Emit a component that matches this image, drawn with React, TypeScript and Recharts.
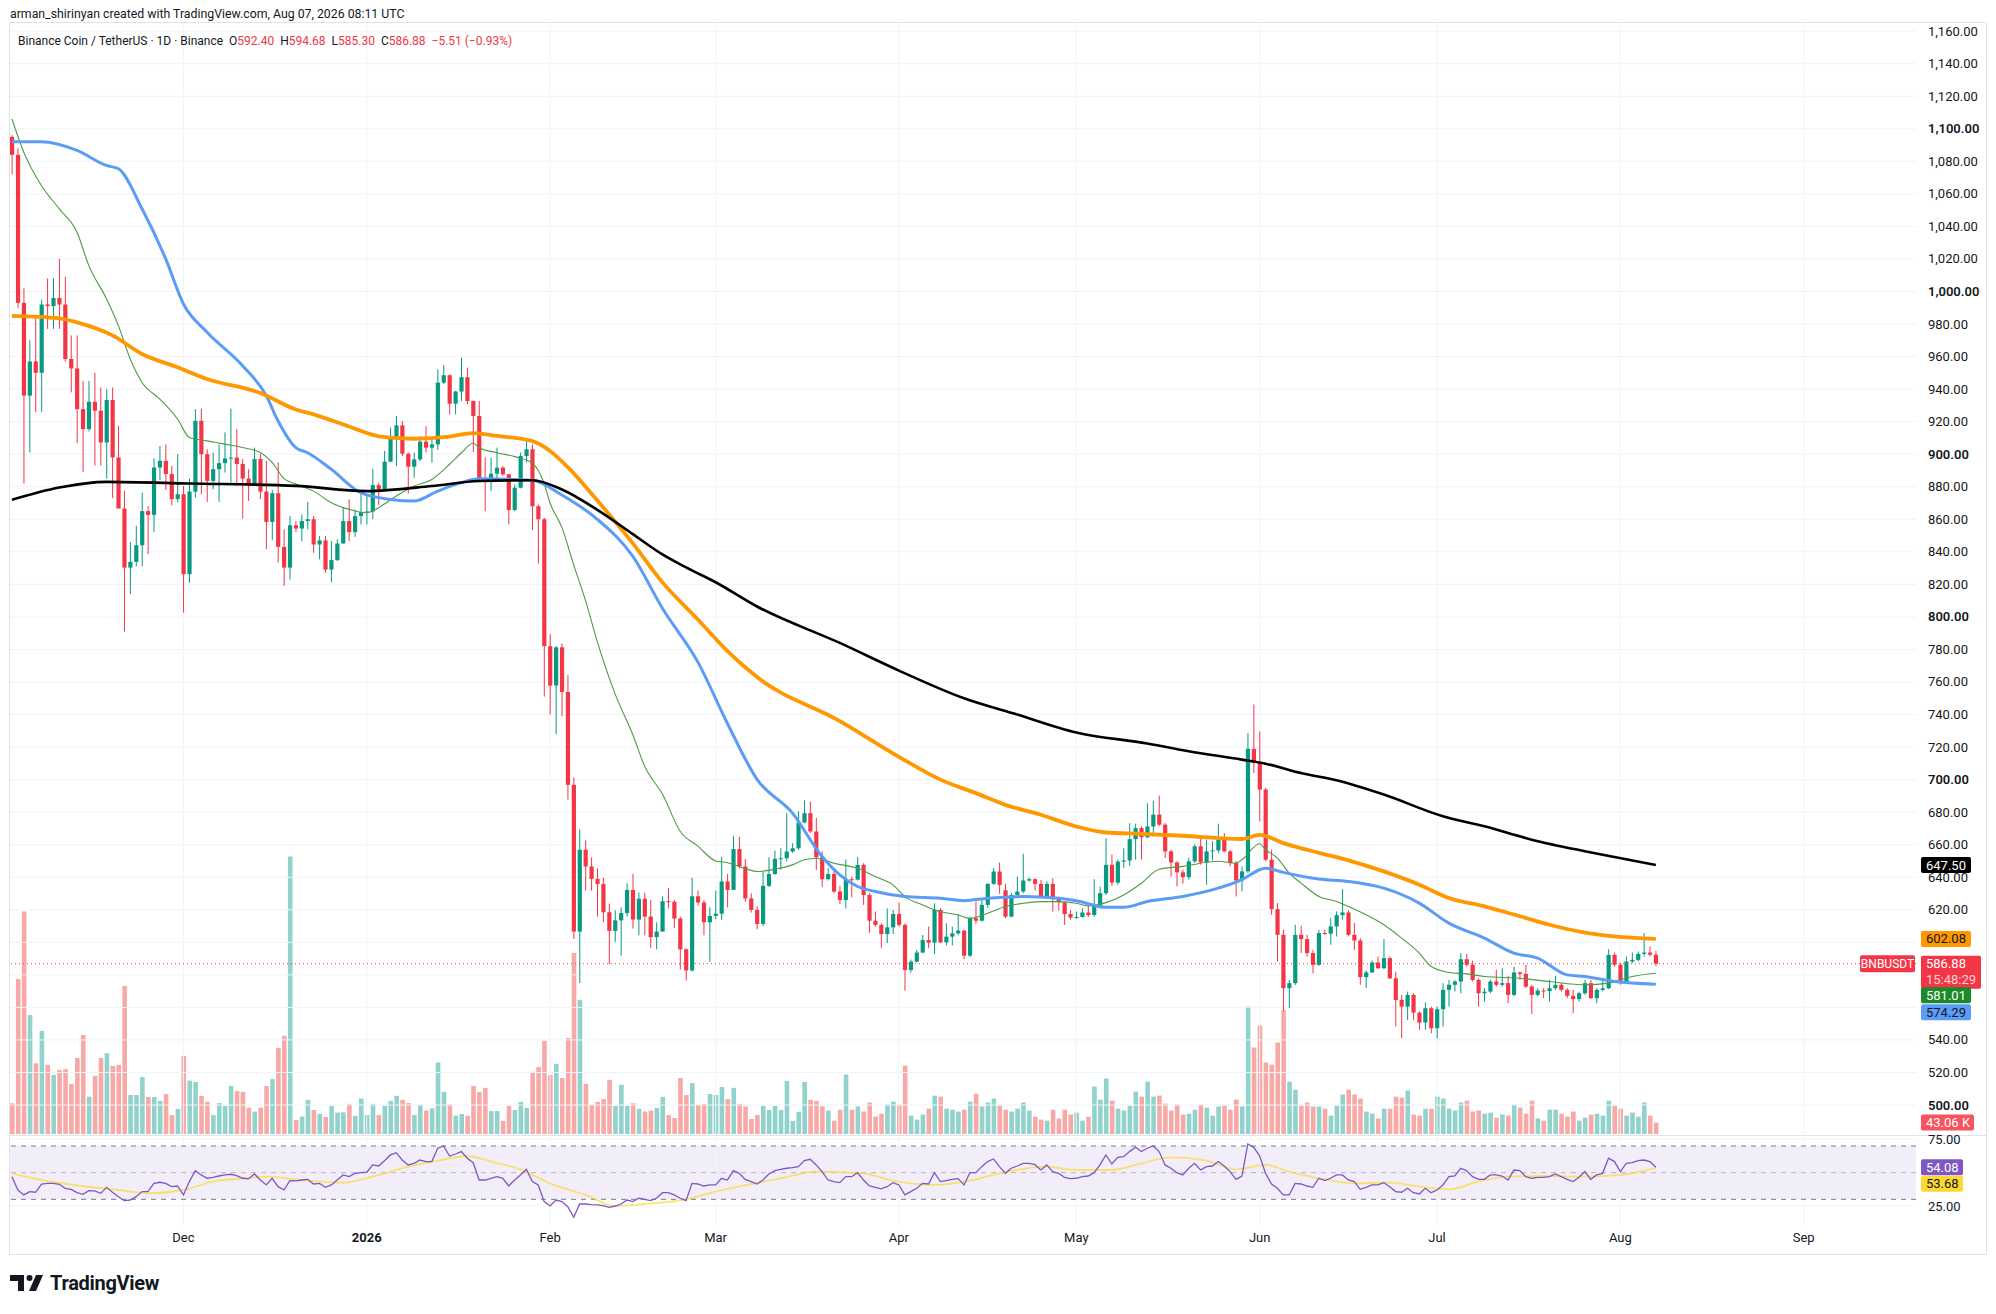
import React from "react";
import { ComposedChart, Bar, Line, XAxis, YAxis, ReferenceLine, ReferenceArea } from "recharts";

// BNB/USDT 1D (Binance), 2 Nov 2025 -> 7 Aug 2026, values.
// index = days since 2 Nov 2025
const ohlc: number[][] = [
  [1095, 1096, 1072, 1084], [1084, 1088, 990, 993], [993, 1002, 882, 936], [936, 970, 901, 957],
  [957, 984, 926, 950], [950, 995, 926, 992], [992, 1008, 977, 991], [991, 1008, 977, 996],
  [996, 1020, 977, 992], [992, 1009, 957, 958.5], [958.5, 973, 938, 952.7], [952.7, 973, 907, 927.7],
  [927.7, 945, 889, 915.4], [915.4, 945, 914, 932.2], [932.2, 950, 893, 926.7], [926.7, 941, 893, 907.2],
  [907.2, 940, 885, 933.3], [933.3, 941, 873, 898], [898, 917.5, 867, 866.6], [866.6, 877.5, 791, 830.3],
  [830.3, 846, 814, 833.8], [833.8, 856, 831, 844], [844, 876.4, 831, 865], [865, 868.2, 838.5, 862.7],
  [862.7, 897.4, 852.2, 891.8], [891.8, 905, 884, 895.9], [895.9, 906, 878, 887.8], [887.8, 892.8, 868.6, 872.4],
  [872.4, 900, 870.3, 875.4], [875.4, 880.5, 802.6, 826.2], [826.2, 885, 821, 877], [877, 927.7, 873.4, 920.5],
  [920.5, 928, 875.4, 900], [900, 903, 870.7, 883.6], [883.6, 901, 878.5, 890.8], [890.8, 906, 870.7, 894.5],
  [894.5, 913.4, 888.7, 897.4], [897.4, 928, 882.6, 897.9], [897.9, 915.4, 880.5, 894], [894, 897, 860.4, 885],
  [885, 890.8, 871.3, 881], [881, 904, 880.5, 897], [897, 900, 872.4, 877], [877, 895.9, 841.6, 858.4],
  [858.4, 878, 847.3, 876], [876, 894.9, 833.4, 843], [843, 853.9, 819, 830.3], [830.3, 862.1, 823, 856.3],
  [856.3, 859, 852, 854.3], [854.3, 863, 846.6, 858.9], [858.9, 870.8, 853.8, 860], [860, 862, 839.4, 844.5],
  [844.5, 849.7, 835.3, 847], [847, 849.7, 827, 829.1], [829.1, 846.6, 821.3, 834.9], [834.9, 847.6, 834.3, 845.1],
  [845.1, 867, 845.1, 858.9], [858.9, 872.2, 846.6, 852.1], [852.1, 866, 849.2, 862], [862, 875.9, 856.8, 864.4],
  [864.4, 875.3, 856.8, 864.8], [864.8, 891.1, 860, 881], [881, 882.5, 868.7, 878.4], [878.4, 902, 878.4, 895.4],
  [895.4, 916.3, 895, 910.6], [910.6, 923.5, 892.7, 917.7], [917.7, 920.4, 898.9, 900.3], [900.3, 901, 875.9, 892.3],
  [892.3, 901, 885.5, 896.8], [896.8, 911.2, 895.8, 907.7], [907.7, 917.3, 901, 904], [904, 910.2, 894.8, 906],
  [906, 952.2, 902.6, 944], [944, 954.7, 943, 948.5], [948.5, 949.1, 924.5, 931], [931, 938.9, 924.5, 938.5],
  [938.5, 959.4, 932.7, 947.3], [947.3, 953.2, 930.7, 932.7], [932.7, 933, 901.3, 923.5], [923.5, 932.7, 884.1, 884.5],
  [884.5, 897.9, 865, 883.5], [883.5, 897.9, 877.3, 888], [888, 904, 883.5, 891.7], [891.7, 892.7, 886.6, 887.6],
  [887.6, 888, 856.8, 865.7], [865.7, 881.4, 865, 879.4], [879.4, 901, 879, 898.9], [898.9, 909.1, 894.8, 903],
  [903, 906, 853.3, 868], [868, 869.1, 832.8, 860], [860, 861, 751, 782], [782, 789.3, 740, 757.8],
  [757.8, 782, 728, 781.3], [781.3, 783.6, 739, 753.9], [753.9, 764.2, 687.7, 696.8], [696.8, 701.4, 602, 606.6],
  [606.6, 669.4, 575, 656.9], [656.9, 662.6, 631.8, 646.6], [646.6, 652.3, 631.8, 639], [639, 645.4, 615.8, 635.9],
  [635.9, 639.7, 612.3, 618.5], [618.5, 623.8, 586.6, 607], [607, 619.7, 600.2, 613.5], [613.5, 621.5, 591.8, 618],
  [618, 636.3, 615.8, 632.2], [632.2, 642, 608.5, 614], [614, 630.6, 604.3, 626.8], [626.8, 630.6, 604.3, 615.8],
  [615.8, 626, 596.4, 603.2], [603.2, 612.3, 595.7, 606.6], [606.6, 628.3, 606.6, 625.3], [625.3, 633.4, 620.8, 624.9],
  [624.9, 626, 608.9, 614.6], [614.6, 615.8, 583.3, 595.7], [595.7, 596.4, 576.5, 582.7], [582.7, 639.7, 582, 628.3],
  [628.3, 631.8, 622.6, 624.5], [624.5, 626, 604.3, 612.3], [612.3, 621.5, 588, 616.2], [616.2, 631.8, 614.2, 617.6],
  [617.6, 652.3, 613.8, 637.4], [637.4, 642, 621.5, 632.2], [632.2, 665.5, 632.2, 657.3], [657.3, 664.8, 645.4, 646.6],
  [646.6, 651.2, 624.9, 627], [627, 630.2, 618.3, 619.9], [619.9, 622, 608.1, 611.3], [611.3, 643.5, 610, 634.7],
  [634.7, 652.3, 634, 642], [642, 656.4, 641.4, 651.3], [651.3, 657.8, 644.5, 651.7], [651.7, 679.4, 649.6, 655.8],
  [655.8, 660.9, 655, 657.8], [657.8, 680.6, 656.8, 673.6], [673.6, 687.2, 673.2, 679.4], [679.4, 686.5, 667.2, 668.1],
  [668.1, 676.4, 644.5, 652.3], [652.3, 655.8, 633.9, 638.8], [638.8, 645.6, 638, 642], [642, 644.5, 630.2, 631.2],
  [631.2, 634.7, 623.6, 626], [626, 650.9, 620.9, 638.8], [638.8, 640.4, 627.7, 638.5], [638.5, 652.3, 637.9, 647.6],
  [647.6, 648.6, 623, 629.1], [629.1, 630.2, 605.9, 613.3], [613.3, 618.9, 609.6, 610.7], [610.7, 611.7, 596.4, 605.1],
  [605.1, 620.9, 599.6, 609.2], [609.2, 619.9, 605.1, 617.4], [617.4, 624.4, 609.6, 610.7], [610.7, 611.7, 570.3, 583],
  [583, 589.4, 581.4, 588.1], [588.1, 595.4, 587.5, 593.7], [593.7, 604.5, 593.3, 601.4], [601.4, 609.6, 596.4, 599.8],
  [599.8, 624, 592.8, 619.9], [619.9, 621, 599.6, 600], [600, 611.7, 598.1, 603.5], [603.5, 609.6, 598.1, 605.5],
  [605.5, 617.4, 604.5, 607.2], [607.2, 607.6, 589.6, 591.8], [591.8, 615.8, 591, 614.8], [614.8, 625, 611.3, 613.3],
  [613.3, 626, 612.7, 623], [623, 636.3, 621.1, 635.9], [635.9, 645.6, 635.3, 643.5], [643.5, 649, 629.8, 635.3],
  [632, 636, 614.8, 615.8], [615.8, 630.2, 615.4, 629.1], [629.1, 640.4, 628.1, 631.2], [631.2, 654.5, 630.2, 638],
  [638, 640, 637.4, 638.8], [638.8, 639.4, 631.8, 635.9], [635.9, 638.4, 627.1, 627.7], [627.7, 637.4, 627.1, 635.9],
  [635.9, 639.4, 618.9, 626.5], [626.5, 628.1, 619.5, 624.6], [624.6, 625, 610.7, 617.4], [617.4, 619.9, 614, 615.2],
  [615.2, 618.9, 614.4, 615.6], [615.6, 620.9, 615.2, 618.3], [618.3, 622.4, 615.6, 616.8], [616.8, 638.8, 615.8, 622.4],
  [622.4, 634.3, 622, 630.2], [630.2, 664, 629.1, 647.6], [647.6, 653.9, 634.7, 636.7], [636.7, 650.9, 635.3, 649.6],
  [649.6, 657.8, 645.6, 650.3], [650.3, 673.2, 647, 663.4], [663.4, 672.9, 650.9, 670.2], [670.2, 671.2, 650.9, 664.6],
  [664.6, 685.5, 664, 671.2], [671.2, 687.1, 665.1, 678.5], [678.5, 690.2, 671.3, 672.3], [672.3, 673.3, 651.8, 655.9],
  [655.9, 656.9, 640.5, 649.1], [649.1, 649.8, 634.4, 643], [643, 644.6, 636, 640.1], [640.1, 651.8, 638.5, 649.8],
  [649.8, 660, 648.7, 659], [659, 664.1, 647.7, 649.1], [649.1, 663.1, 635.4, 655.9], [655.9, 662.1, 650.4, 656.5],
  [656.5, 672.9, 654.9, 663.1], [663.1, 667.2, 655.3, 655.9], [655.9, 656.9, 646.7, 648.7], [648.7, 649.8, 628.2, 638],
  [638, 646.7, 631.3, 643.6], [643.6, 728.7, 642.6, 718.9], [718.9, 746.2, 704.1, 710.3], [710.3, 729.7, 674.4, 693.9],
  [693.9, 694.9, 649.8, 650.8], [650.8, 656.9, 616.9, 620.4], [620.4, 624.1, 588.2, 604.6], [604.6, 607.7, 557.5, 571.8],
  [571.8, 576.9, 559.5, 574.9], [574.9, 610.8, 573.8, 604.6], [604.6, 610.2, 593.4, 602], [602, 604.6, 591.3, 593.4],
  [593.4, 595.4, 581, 586.2], [586.2, 607.7, 585.5, 605.7], [605.7, 607.7, 604.6, 605.3], [605.3, 614.9, 598.5, 609.8],
  [609.8, 619, 603.6, 616.7], [616.7, 632.7, 613.9, 618.4], [618.4, 619.6, 603.6, 604.6], [604.6, 611.8, 595.4, 601.1],
  [601.1, 602.5, 573.9, 578.6], [578.6, 582.7, 571.8, 581.5], [581.5, 588.8, 581.1, 587.6], [587.6, 591.3, 583.5, 584.1],
  [584.1, 602, 583.5, 590.3], [590.3, 591.3, 577.3, 577.9], [577.9, 582, 548.2, 564.6], [564.6, 567.7, 541, 560.5],
  [560.5, 569.7, 552.3, 567.7], [567.7, 568.7, 552.3, 556.8], [556.8, 557.5, 546.2, 550.7], [550.7, 563, 546.2, 559.5],
  [559.5, 560.5, 544.1, 547.2], [547.2, 560.5, 541, 558.9], [558.9, 574.9, 548.2, 570.8], [570.8, 576.9, 560.5, 573.9],
  [573.9, 576.9, 569.8, 575.9], [575.9, 593.4, 568.7, 589.6], [589.6, 592.9, 585.1, 586.2], [586.2, 588.8, 575.9, 576.9],
  [576.9, 577.9, 560.5, 568.7], [568.7, 571.8, 563.6, 569.7], [569.7, 576.9, 568.7, 575.9], [575.9, 583.1, 572.8, 573.9],
  [573.9, 584.1, 572.8, 574.9], [574.9, 579.4, 562.6, 567.7], [567.7, 585.1, 567, 581.5], [581.5, 582.1, 576.9, 580.6],
  [580.6, 586.2, 571.8, 572.8], [572.8, 573.9, 556, 567.7], [567.7, 571.8, 566.7, 570.4], [570.4, 571.8, 565.7, 570],
  [570, 576.9, 563.6, 571.8], [571.8, 579.4, 570.8, 573.9], [573.9, 574.9, 569.8, 570.8], [570.8, 571.8, 565.7, 567.1],
  [567.1, 570.8, 556.4, 565.1], [565.1, 569.7, 563.6, 568.7], [568.7, 576.9, 567.7, 574.9], [574.9, 576.9, 565.1, 565.7],
  [565.7, 571.8, 562.6, 570.8], [570.8, 576.9, 569.8, 571.8], [571.8, 595.8, 571.2, 592.3], [592.3, 593.7, 585.1, 586.2],
  [586.2, 587.2, 573.9, 574.9], [574.9, 591.3, 574.5, 588.2], [588.2, 593.7, 587.2, 589.2], [589.2, 594.4, 588.2, 592.9],
  [592.9, 605.7, 591.3, 593.7], [593.7, 597.5, 591.3, 592.4], [592.4, 594.68, 585.3, 586.88],
];

// volume, thousands of BNB
const volumes = [
  115, 581, 834, 446, 265, 386, 259, 221, 240, 243, 188, 285, 371, 140, 218, 285, 303, 255, 259, 555,
  146, 146, 214, 139, 139, 124, 150, 71, 94, 293, 200, 195, 143, 121, 71, 116, 105, 180, 161, 158,
  99, 84, 99, 180, 206, 323, 368, 1040, 53, 65, 128, 90, 75, 64, 105, 80, 81, 113, 68, 133,
  71, 113, 71, 105, 124, 143, 128, 116, 71, 109, 88, 96, 268, 158, 111, 69, 75, 68, 180, 158,
  173, 86, 86, 49, 105, 90, 120, 98, 233, 251, 349, 221, 263, 210, 360, 679, 503, 188, 109, 120,
  131, 203, 105, 184, 105, 115, 94, 84, 88, 98, 139, 71, 60, 210, 146, 191, 109, 113, 150, 146,
  176, 131, 173, 113, 103, 56, 71, 105, 90, 105, 90, 199, 49, 83, 195, 128, 124, 104, 88, 50,
  91, 223, 91, 103, 84, 118, 65, 76, 110, 121, 110, 256, 69, 54, 73, 95, 144, 140, 95, 91,
  84, 91, 121, 151, 103, 118, 133, 106, 91, 84, 95, 118, 88, 65, 54, 50, 91, 58, 91, 73,
  80, 50, 65, 178, 129, 208, 125, 95, 88, 106, 159, 140, 196, 140, 144, 114, 88, 110, 73, 76,
  91, 110, 99, 69, 103, 106, 91, 129, 103, 478, 324, 406, 268, 260, 343, 463, 196, 166, 106, 118,
  103, 103, 95, 69, 106, 148, 166, 148, 133, 84, 76, 58, 95, 95, 140, 136, 163, 73, 69, 95,
  95, 140, 133, 95, 88, 118, 125, 84, 88, 76, 80, 61, 73, 69, 110, 99, 76, 125, 58, 50,
  91, 91, 76, 65, 84, 50, 61, 73, 76, 69, 125, 106, 95, 69, 80, 65, 118, 69, 43.06,
];

// RSI 14
const rsi = [
  47, 37, 33.3, 35.8, 35.3, 41.5, 42, 42, 41.3, 38.3, 37.5, 35, 33.8, 36.5, 36.3, 34.5, 39, 35.3, 32, 29,
  29.5, 32, 35.8, 35.8, 42, 42.8, 42, 39.5, 40, 33.3, 43.3, 51.5, 48.3, 45.8, 46.5, 47.5, 48.3, 48.8, 47.8, 45.8,
  45.3, 49, 44.5, 40.8, 45.8, 39.5, 37, 44, 43.8, 44.5, 45, 41.5, 42, 39, 40.8, 44.5, 48.3, 47, 49.5, 50,
  50.3, 55.8, 55, 59, 63.3, 65, 59.5, 55.8, 57, 59.5, 58.3, 58.3, 68.3, 70, 62.5, 64, 65.8, 60.8, 57.5, 44.5,
  44.5, 45.8, 47, 45.8, 40, 44.5, 48.3, 52.5, 43.3, 40.8, 28.3, 25, 29.5, 28.3, 24.5, 16.5, 26.5, 26.5, 26, 25.8,
  25.3, 24, 25, 26.5, 29.5, 28.3, 30.8, 30, 29, 30.8, 35, 35, 33.3, 30.8, 29, 42, 41.5, 40, 40.8, 40.8,
  45.8, 44.5, 51.5, 49.5, 45, 43.3, 41.5, 44.5, 49, 51.5, 52.5, 53.3, 53.8, 54.5, 59, 60, 55.8, 50.8, 44.5, 43.3,
  42.5, 47, 47, 50, 44.5, 40, 39, 37.8, 39.5, 42.5, 40.8, 33.3, 35.8, 38.3, 42, 41.5, 50, 43.3, 44, 45,
  45.5, 40.8, 50, 50, 54.5, 58.3, 60.3, 54.5, 49.5, 53.3, 55, 57, 57, 56, 52, 55.8, 50.8, 49.5, 46.5, 45.5,
  45.8, 47, 47.5, 50, 55.8, 63.3, 56.5, 61.5, 62, 65.8, 69, 65.8, 68.3, 70, 65.8, 55.8, 53.3, 50, 48.3, 53.3,
  57, 52, 54.5, 55, 58.3, 55, 50.8, 45, 47.5, 71.5, 69, 62.5, 49.5, 41.5, 38.3, 33.3, 33.3, 42, 41.5, 40,
  39, 45.8, 44, 45.8, 48.3, 48.3, 44.5, 43.3, 37.5, 39, 40.8, 40.8, 42.5, 39.5, 35.8, 35.3, 38.3, 35, 34, 38.3,
  35, 37, 40.8, 47, 47.5, 53.3, 51.5, 47, 45, 45, 48.3, 48.3, 47.5, 44.5, 52, 51.5, 47, 45.8, 46.5, 46.5,
  47, 49, 47, 45, 43.3, 46.5, 50.8, 45, 48.3, 49.5, 60.8, 58.3, 50.8, 57, 57.5, 59, 59.5, 58.3, 54.08,
];

// [day, value]
const rsiMa = [
  [0, 49.5], [5, 44.5], [12, 40], [18, 37], [23, 34.5], [29, 37], [34, 43.3], [39, 45.8], [43, 47], [49, 44.5],
  [56, 42.5], [61, 47], [67, 54.5], [72, 59], [77, 62.5], [81, 58.3], [86, 52.5], [91, 42], [97, 33.3], [102, 25],
  [107, 26.5], [114, 30], [119, 35.8], [125, 41.5], [130, 45.8], [136, 50.8], [144, 49.5], [149, 44], [156, 40.8],
  [162, 44], [167, 49.5], [175, 54.5], [180, 52], [186, 52], [191, 57], [196, 61.5], [202, 59], [207, 52.5],
  [212, 55.8], [216, 50.8], [222, 45], [227, 42], [233, 42.5], [238, 39.5], [243, 37.5], [248, 43.3], [253, 47],
  [259, 47.5], [266, 47], [272, 48.3], [278, 53.68],
];

const maBlack = [
  [0, 872], [8, 879.5], [16, 883], [30, 882], [48, 880.5], [60, 877.3], [71, 880.4], [79, 883.5], [88, 884],
  [93, 878.3], [99, 865.8], [105, 850.9], [110, 838.4], [114, 830.4], [119, 821.3], [126, 806.4], [140, 784],
  [150, 767], [161, 750], [170, 740], [180, 729], [192, 722.2], [199, 717.4], [208, 712.3], [212, 709.8],
  [218, 704], [224, 699.6], [232, 690.8], [242, 677.5], [249, 671.3], [257, 663.1], [266, 656], [271, 652.4],
  [278, 647.5],
];

const maOrange = [
  [0, 985], [8, 983.5], [11, 981], [17, 973], [22, 961.6], [28, 953.4], [33, 946.2], [42, 937.6], [48, 927.5],
  [51, 924.5], [57, 917], [62, 911], [68, 909.5], [74, 910.8], [78, 913], [82, 911.2], [88, 908], [91, 902],
  [94, 892], [99, 871.5], [105, 845.2], [110, 821.2], [116, 798.4], [121, 779], [126, 763], [140, 736],
  [150, 714], [157, 700], [163, 691.7], [168, 684.5], [174, 678.4], [180, 671.2], [185, 667.5], [191, 666.7],
  [198, 665.5], [208, 663.5], [211, 666], [215, 661], [221, 655], [226, 650.4], [232, 643.6], [238, 635.4],
  [243, 627.2], [249, 622.1], [255, 616], [260, 610.8], [266, 606], [271, 603.6], [278, 602.08],
];

const maBlue = [
  [0, 1092], [5, 1092], [11, 1086.7], [16, 1077.4], [18, 1075.4], [22, 1050.8], [26, 1020], [29, 992.3],
  [33, 975], [39, 954.4], [43, 936], [45, 920.4], [48, 904], [50, 900.9], [54, 890.7], [59, 876.3],
  [64, 872.2], [68, 871.2], [72, 877.3], [76, 882.5], [79, 884.9], [88, 884], [93, 874.9], [99, 860],
  [105, 837.2], [110, 805.3], [116, 772.2], [121, 734.5], [126, 700.2], [132, 679.4], [137, 652.7],
  [140, 641.4], [143, 634.3], [146, 631.2], [151, 628.1], [157, 627.1], [161, 625.6], [165, 627.1],
  [171, 628.1], [177, 627.1], [180, 625.6], [185, 621.5], [188, 621.5], [192, 625.1], [198, 628.2],
  [204, 633.3], [208, 638.5], [211, 644.6], [212, 645.6], [215, 643], [221, 638.9], [226, 637.4],
  [232, 633.3], [238, 624.1], [243, 611.8], [249, 602.6], [254, 593.4], [258, 590.3], [263, 580],
  [266, 579], [271, 575.9], [278, 574.29],
];

const maGreen = [
  [0, 1106], [2, 1085.6], [5, 1065], [8, 1050.8], [11, 1036.4], [13, 1015.9], [16, 995.4], [18, 979],
  [20, 958.5], [22, 944.1], [25, 933.9], [28, 921.6], [30, 910.3], [33, 908.2], [36, 906.2], [39, 904.1],
  [42, 901], [44, 894.9], [46, 885], [48, 881.6], [51, 877.3], [54, 870.2], [57, 866.1], [60, 864],
  [62, 867.1], [65, 874.3], [68, 880.4], [71, 884.5], [74, 893.8], [76, 900.9], [78, 906.7], [79, 904],
  [82, 900.9], [85, 898.5], [88, 894.5], [90, 882], [91, 870], [93, 855], [95, 832], [97, 810],
  [99, 784.7], [102, 752.7], [105, 727.6], [107, 708.2], [110, 691.1], [113, 668.3], [116, 659.1],
  [119, 650], [121, 648.9], [124, 645.4], [126, 643.5], [129, 644.9], [132, 647.6], [134, 650.7],
  [136, 651.7], [139, 648.6], [143, 645.5], [146, 640.4], [149, 635.3], [151, 628.1], [154, 623],
  [157, 618.9], [160, 616.8], [162, 614.8], [165, 617.9], [168, 622], [171, 624], [174, 625], [177, 625],
  [180, 624], [182, 622.4], [185, 624.4], [188, 629.1], [191, 636.3], [194, 644.9], [198, 646.7],
  [204, 649.8], [207, 648.7], [208, 650.8], [211, 660.6], [212, 656.9], [214, 651.8], [216, 642.6],
  [218, 636.4], [221, 628.2], [224, 625.1], [226, 622], [229, 616.9], [232, 610.8], [235, 602.6],
  [238, 593.4], [240, 585.1], [243, 581.5], [246, 580.6], [249, 579], [255, 577.9], [260, 575.9],
  [266, 573.9], [270, 574.9], [274, 579], [278, 581.01],
];

const monthTicks = [29, 60, 91, 119, 150, 180, 211, 241, 272, 303];
const monthLabels = ["Dec", "2026", "Feb", "Mar", "Apr", "May", "Jun", "Jul", "Aug", "Sep"];
const priceTicks = [
  500, 520, 540, 560, 580, 600, 620, 640, 660, 680, 700, 720, 740, 760, 780, 800, 820, 840,
  860, 880, 900, 920, 940, 960, 980, 1000, 1020, 1040, 1060, 1080, 1100, 1120, 1140, 1160,
];
// tick labels hidden behind the last-value badges on the price scale
const coveredTicks = [560, 580, 600];
const rsiTicks = [25, 75];

const FONT = 'Roboto, "Noto Sans", "DejaVu Sans", sans-serif';
const TEXT = "#131722";
const UP = "#089981";
const DOWN = "#f23645";
const GRID = "#f0f3fa";
const X_DOMAIN = [-0.333, 322];
const PRICE_DOMAIN = [482.2, 1165];
const VOL_DOMAIN = [0, 4164];

type Row = { [k: string]: any };
const rows: Row[] = ohlc.map(([o, h, l, c], i) => ({
  day: i, o, h, l, c, range: [l, h], vol: volumes[i], rsi: rsi[i],
}));
const put = (list: number[][], key: string) =>
  list.forEach(([d, v]) => {
    if (rows[d]) rows[d][key] = v;
  });
put(maBlack, "black");
put(maOrange, "orange");
put(maBlue, "blue");
put(maGreen, "green");
put(rsiMa, "rsiMa");

const fmt = (v: number) => v.toLocaleString("en-US", { minimumFractionDigits: 2, maximumFractionDigits: 2 });

function Candle(props: any) {
  const { x, y, width, height, payload } = props;
  if (x == null || y == null || !payload) return null;
  const top = Math.min(y, y + height);
  const span = Math.abs(height);
  const { o, h, l, c } = payload;
  const k = h > l ? span / (h - l) : 0;
  const yo = top + (h - o) * k;
  const yc = top + (h - c) * k;
  const color = c >= o ? UP : DOWN;
  const cx = x + width / 2;
  return (
    <g>
      <line x1={cx} x2={cx} y1={top} y2={top + span} stroke={color} strokeWidth={1} />
      <rect x={x} y={Math.min(yo, yc)} width={width} height={Math.max(Math.abs(yc - yo), 1)} fill={color} />
    </g>
  );
}

function VolBar(props: any) {
  const { x, y, width, height, payload } = props;
  if (x == null || !payload) return null;
  const up = payload.c >= payload.o;
  return <rect x={x} y={y} width={width} height={height} fill={up ? "#26a69a" : "#ef5350"} fillOpacity={0.5} />;
}

function badge(text: string, bg: string, fg: string, shift = 0, w = 50, sub?: string) {
  return (props: any) => {
    const vb = props.viewBox || {};
    const x0 = (vb.x || 0) + (vb.width || 0) + 5;
    const cy = (vb.y || 0) + shift;
    const h = sub ? 33 : 16;
    return (
      <g>
        <rect x={x0} y={cy - 8} width={w} height={h} rx={2} fill={bg} />
        <text x={x0 + 5} y={cy + 4.5} fill={fg} fontSize={13} fontFamily={FONT}>{text}</text>
        {sub ? (
          <text x={x0 + 5} y={cy + 20.5} fill="#ffd2d6" fontSize={13} fontFamily={FONT}>{sub}</text>
        ) : null}
      </g>
    );
  };
}

function lastPriceLabel(props: any) {
  const vb = props.viewBox || {};
  const right = (vb.x || 0) + (vb.width || 0);
  const cy = vb.y || 0;
  return (
    <g>
      <rect x={right - 56} y={cy - 8.5} width={55} height={17} rx={2} fill={DOWN} />
      <text x={right - 28.5} y={cy + 4} fill="#fff" fontSize={12} textAnchor="middle" fontFamily={FONT}>BNBUSDT</text>
      {badge("586.88", DOWN, "#fff", 0, 60, "15:48:29")(props)}
    </g>
  );
}

function PriceTick(props: any) {
  const { x, y, payload } = props;
  const v = payload.value as number;
  if (coveredTicks.includes(v)) return <g />;
  return (
    <text x={x} y={y} dy={4.5} fontSize={13} fill={TEXT} textAnchor="start" fontWeight={v % 100 === 0 ? 600 : 400} fontFamily={FONT}>
      {fmt(v)}
    </text>
  );
}

function RsiTick(props: any) {
  const { x, y, payload } = props;
  return (
    <text x={x} y={y} dy={4.5} fontSize={13} fill={TEXT} textAnchor="start" fontFamily={FONT}>
      {fmt(payload.value)}
    </text>
  );
}

function TimeTick(props: any) {
  const { x, y, payload } = props;
  const i = monthTicks.indexOf(payload.value);
  const label = monthLabels[i] ?? "";
  return (
    <text x={x} y={y} dy={16} fontSize={13} fill={TEXT} textAnchor="middle" fontWeight={label === "2026" ? 700 : 400} fontFamily={FONT}>
      {label}
    </text>
  );
}

function VolumeLayer() {
  return (
    <ComposedChart width={1976} height={1111} data={rows} margin={{ top: 0, right: 70, bottom: 0, left: 0 }}>
      <XAxis dataKey="day" type="number" domain={X_DOMAIN} hide allowDataOverflow />
      <YAxis yAxisId="p" domain={PRICE_DOMAIN} hide allowDataOverflow />
      <YAxis yAxisId="v" domain={VOL_DOMAIN} hide allowDataOverflow />
      {priceTicks.map((t) => (
        <ReferenceLine key={"h" + t} yAxisId="p" y={t} stroke={GRID} strokeWidth={1} />
      ))}
      {monthTicks.map((m) => (
        <ReferenceLine key={"v" + m} yAxisId="p" x={m} stroke={GRID} strokeWidth={1} />
      ))}
      <Bar yAxisId="v" dataKey="vol" barSize={4.6} shape={VolBar} isAnimationActive={false} />
      <ReferenceLine yAxisId="v" y={43.06} stroke="transparent" label={badge("43.06 K", "#f7525f", "#fff", 0, 53)} />
    </ComposedChart>
  );
}

function PriceLayer() {
  return (
    <ComposedChart width={1976} height={1111} data={rows} margin={{ top: 0, right: 0, bottom: 0, left: 0 }}>
      <XAxis dataKey="day" type="number" domain={X_DOMAIN} hide allowDataOverflow />
      <YAxis
        yAxisId="p"
        orientation="right"
        width={70}
        domain={PRICE_DOMAIN}
        ticks={priceTicks}
        interval={0}
        tick={PriceTick}
        tickSize={0}
        tickMargin={12}
        axisLine={false}
        tickLine={false}
        allowDataOverflow
      />
      <Bar yAxisId="p" dataKey="range" barSize={4.2} shape={Candle} isAnimationActive={false} />
      <Line yAxisId="p" dataKey="green" type="monotone" stroke="#4f9a45" strokeWidth={1.1} dot={false} connectNulls isAnimationActive={false} />
      <Line yAxisId="p" dataKey="blue" type="monotone" stroke="#5b9cf6" strokeWidth={3} dot={false} connectNulls isAnimationActive={false} />
      <Line yAxisId="p" dataKey="orange" type="monotone" stroke="#ff9800" strokeWidth={3.8} dot={false} connectNulls isAnimationActive={false} />
      <Line yAxisId="p" dataKey="black" type="monotone" stroke="#000000" strokeWidth={2.6} dot={false} connectNulls isAnimationActive={false} />
      <ReferenceLine yAxisId="p" y={586.88} stroke={DOWN} strokeWidth={1} strokeDasharray="1 3" label={lastPriceLabel} />
      <ReferenceLine yAxisId="p" y={647.5} stroke="transparent" label={badge("647.50", "#000000", "#fff")} />
      <ReferenceLine yAxisId="p" y={602.08} stroke="transparent" label={badge("602.08", "#ff9800", TEXT)} />
      <ReferenceLine yAxisId="p" y={581.01} stroke="transparent" label={badge("581.01", "#1b8a2a", "#fff", 22)} />
      <ReferenceLine yAxisId="p" y={574.29} stroke="transparent" label={badge("574.29", "#5b9cf6", TEXT, 28)} />
    </ComposedChart>
  );
}

// the svg starts 10px above the pane so the 75.00 label is not clipped
function RsiPane() {
  return (
    <ComposedChart width={1976} height={128} data={rows} margin={{ top: 10, right: 0, bottom: 0, left: 0 }}>
      <XAxis
        dataKey="day"
        type="number"
        domain={X_DOMAIN}
        ticks={monthTicks}
        interval={0}
        tick={TimeTick}
        tickSize={0}
        tickMargin={0}
        height={28}
        axisLine={false}
        tickLine={false}
        allowDataOverflow
      />
      <YAxis
        yAxisId="r"
        orientation="right"
        width={70}
        domain={[10, 77.5]}
        ticks={rsiTicks}
        interval={0}
        tick={RsiTick}
        tickSize={0}
        tickMargin={12}
        axisLine={false}
        tickLine={false}
        allowDataOverflow
      />
      {rsiTicks.map((t) => (
        <ReferenceLine key={"rg" + t} yAxisId="r" y={t} stroke={GRID} />
      ))}
      {monthTicks.map((m) => (
        <ReferenceLine key={"rv" + m} yAxisId="r" x={m} stroke={GRID} />
      ))}
      <ReferenceArea yAxisId="r" y1={30} y2={70} fill="#7e57c2" fillOpacity={0.1} stroke="none" />
      <ReferenceLine yAxisId="r" y={70} stroke="#787b86" strokeDasharray="5 5" />
      <ReferenceLine yAxisId="r" y={50} stroke="#787b86" strokeOpacity={0.5} strokeDasharray="5 5" />
      <ReferenceLine yAxisId="r" y={30} stroke="#787b86" strokeDasharray="5 5" />
      <Line yAxisId="r" dataKey="rsiMa" type="monotone" stroke="#fdd835" strokeOpacity={0.7} strokeWidth={1.8} dot={false} connectNulls isAnimationActive={false} />
      <Line yAxisId="r" dataKey="rsi" type="linear" stroke="#7e57c2" strokeWidth={1.3} dot={false} isAnimationActive={false} />
      <ReferenceLine yAxisId="r" y={54.08} stroke="transparent" label={badge("54.08", "#7e57c2", "#fff", 0, 42)} />
      <ReferenceLine yAxisId="r" y={53.68} stroke="transparent" label={badge("53.68", "#fdd835", TEXT, 16, 42)} />
    </ComposedChart>
  );
}

function Logo() {
  return (
    <div style={{ position: "absolute", left: 10, top: 1271, display: "flex", alignItems: "center", gap: 6 }}>
      <svg width={34} height={20} viewBox="0 0 34 20">
        <path d="M0 2 H14 V18 H8 V8 H0 Z" fill={TEXT} />
        <circle cx={19.5} cy={5} r={3} fill={TEXT} />
        <path d="M26 2 H33 L26 18 H19 Z" fill={TEXT} />
      </svg>
      <span style={{ fontSize: 20, fontWeight: 700, color: TEXT, letterSpacing: -0.3 }}>TradingView</span>
    </div>
  );
}

export default function App() {
  const red = { color: DOWN };
  return (
    <div style={{ position: "fixed", left: 0, top: 0, width: 1996, height: 1314, background: "#fff", fontFamily: FONT, overflow: "hidden" }}>
      <div style={{ position: "absolute", left: 10, top: 5, fontSize: 12.3, color: TEXT, lineHeight: "18px" }}>
        arman_shirinyan created with TradingView.com, Aug 07, 2026 08:11 UTC
      </div>
      <div style={{ position: "absolute", left: 9, top: 22, width: 1978, height: 1233, boxSizing: "border-box", border: "1px solid #e0e3eb" }} />
      <div style={{ position: "absolute", left: 10, top: 23 }}>
        <VolumeLayer />
      </div>
      <div style={{ position: "absolute", left: 10, top: 23 }}>
        <PriceLayer />
      </div>
      <div style={{ position: "absolute", left: 18, top: 32, fontSize: 12, color: TEXT, lineHeight: "18px", whiteSpace: "pre" }}>
        {"Binance Coin / TetherUS · 1D · Binance  O"}
        <span style={red}>592.40</span>
        {"  H"}
        <span style={red}>594.68</span>
        {"  L"}
        <span style={red}>585.30</span>
        {"  C"}
        <span style={red}>586.88</span>
        {"  "}
        <span style={red}>−5.51 (−0.93%)</span>
      </div>
      <div style={{ position: "absolute", left: 10, top: 1135, width: 1976, height: 1, background: "#e0e3eb" }} />
      <div style={{ position: "absolute", left: 10, top: 1126 }}>
        <RsiPane />
      </div>
      <Logo />
    </div>
  );
}
